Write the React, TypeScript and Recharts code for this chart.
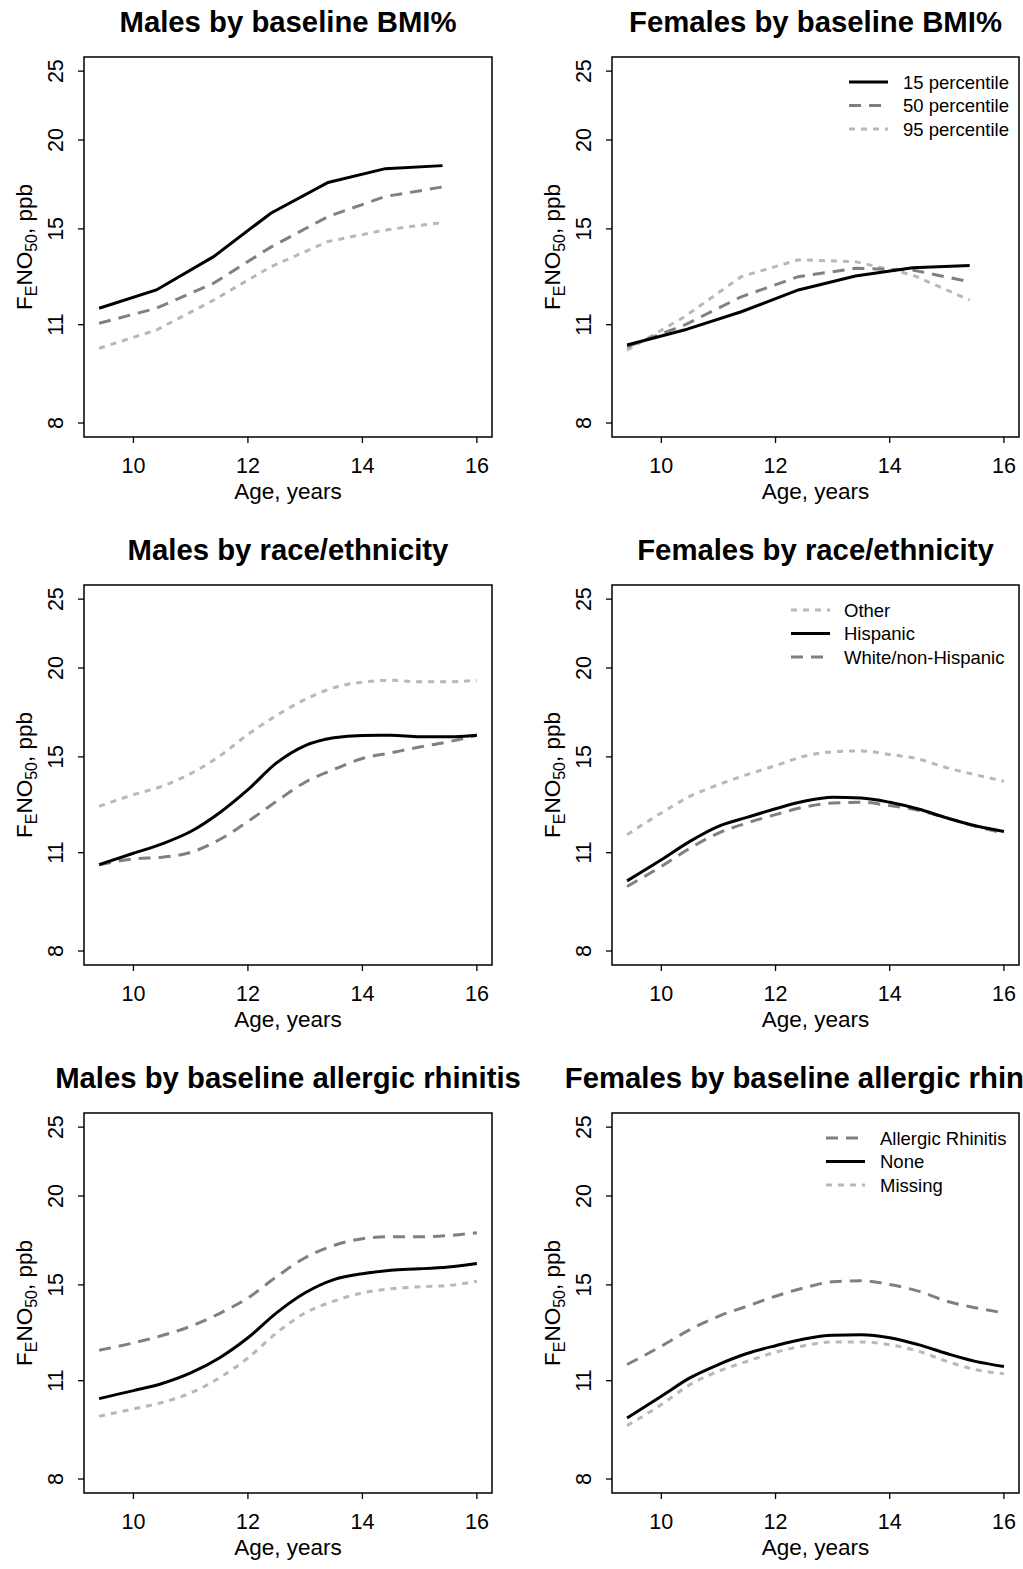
import React from "react";
import { LineChart, Line, XAxis, YAxis, ReferenceArea } from "recharts";

// ages at which each panel's curves were read
const bmiAges = [9.4, 10.4, 11.4, 12.4, 13.4, 14.4, 15.4];
const smoothAges = [9.4, 10, 10.5, 11, 11.5, 12, 12.5, 13, 13.5, 14, 14.5, 15, 15.5, 16];

// Males by baseline BMI%
const maleBmi15 = [11.6, 12.31, 13.71, 15.78, 17.43, 18.23, 18.41];
const maleBmi50 = [11.05, 11.6, 12.58, 14.14, 15.61, 16.66, 17.18];
const maleBmi95 = [10.19, 10.81, 11.91, 13.27, 14.4, 14.95, 15.31];

// Females by baseline BMI%
const femaleBmi15 = [10.3, 10.81, 11.47, 12.31, 12.88, 13.23, 13.32];
const femaleBmi50 = [10.24, 10.98, 12.04, 12.85, 13.2, 13.13, 12.64];
const femaleBmi95 = [10.13, 11.28, 12.85, 13.57, 13.49, 12.92, 11.91];

// Males by race/ethnicity
const maleOther = [12.78, 13.27, 13.64, 14.21, 15.03, 16.13, 17.15, 18.07, 18.77, 19.11, 19.22, 19.13, 19.13, 19.22];
const maleHispanic = [10.58, 10.98, 11.32, 11.78, 12.51, 13.49, 14.71, 15.56, 15.96, 16.08, 16.09, 16.01, 16.01, 16.09];
const maleWhite = [10.58, 10.78, 10.84, 11.01, 11.47, 12.17, 12.99, 13.82, 14.4, 14.92, 15.2, 15.49, 15.75, 16.09];

// Females by race/ethnicity
const femaleOther = [11.66, 12.51, 13.2, 13.71, 14.16, 14.58, 15.03, 15.25, 15.29, 15.12, 14.9, 14.48, 14.16, 13.86];
const femaleHispanic = [10.04, 10.75, 11.41, 11.98, 12.33, 12.68, 12.99, 13.16, 13.13, 12.95, 12.67, 12.31, 12.0, 11.78];
const femaleWhite = [9.86, 10.52, 11.16, 11.72, 12.11, 12.44, 12.75, 12.92, 12.95, 12.81, 12.62, 12.31, 11.98, 11.72];

// Males by baseline allergic rhinitis
const maleAllergic = [12.14, 12.43, 12.73, 13.12, 13.67, 14.38, 15.4, 16.38, 17.04, 17.42, 17.53, 17.53, 17.6, 17.76];
const maleNone = [10.38, 10.65, 10.9, 11.28, 11.84, 12.64, 13.7, 14.62, 15.26, 15.55, 15.73, 15.8, 15.9, 16.08];
const maleMissing = [9.8, 10.04, 10.25, 10.57, 11.1, 11.84, 12.84, 13.7, 14.23, 14.62, 14.81, 14.91, 14.97, 15.18];

// Females by baseline allergic rhinitis
const femaleAllergic = [11.59, 12.3, 12.98, 13.55, 14.0, 14.46, 14.86, 15.15, 15.2, 15.02, 14.7, 14.23, 13.93, 13.7];
const femaleNone = [9.75, 10.46, 11.1, 11.59, 12.01, 12.32, 12.59, 12.74, 12.76, 12.64, 12.36, 12.01, 11.71, 11.52];
const femaleMissing = [9.51, 10.18, 10.86, 11.34, 11.71, 12.06, 12.32, 12.47, 12.47, 12.36, 12.1, 11.71, 11.4, 11.25];

const xTicks = [10, 12, 14, 16];
const yTicks = [8, 11, 15, 20, 25];

const FONT = '"Liberation Sans", Arial, Helvetica, sans-serif';
const X_DOMAIN: [number, number] = [9.136, 16.264];
const Y_DOMAIN: [number, number] = [7.646, 26.17];

const lineStyles: Record<string, { stroke: string; dash?: string }> = {
  solid: { stroke: "#000000" },
  dashed: { stroke: "#808080", dash: "12 8" },
  dotted: { stroke: "#b8b8b8", dash: "6 6" },
};

type Series = { name: string; values: number[]; style: string };
type PanelDef = {
  title: string;
  ages: number[];
  curve: "linear" | "monotone";
  series: Series[]; // drawing order
  legend?: { order: number[]; lineX: number; textX: number };
};

const panels: PanelDef[] = [
  {
    title: "Males by baseline BMI%",
    ages: bmiAges,
    curve: "linear",
    series: [
      { name: "95 percentile", values: maleBmi95, style: "dotted" },
      { name: "50 percentile", values: maleBmi50, style: "dashed" },
      { name: "15 percentile", values: maleBmi15, style: "solid" },
    ],
  },
  {
    title: "Females by baseline BMI%",
    ages: bmiAges,
    curve: "linear",
    series: [
      { name: "95 percentile", values: femaleBmi95, style: "dotted" },
      { name: "50 percentile", values: femaleBmi50, style: "dashed" },
      { name: "15 percentile", values: femaleBmi15, style: "solid" },
    ],
    legend: { order: [2, 1, 0], lineX: 338, textX: 392 },
  },
  {
    title: "Males by race/ethnicity",
    ages: smoothAges,
    curve: "monotone",
    series: [
      { name: "Other", values: maleOther, style: "dotted" },
      { name: "White/non-Hispanic", values: maleWhite, style: "dashed" },
      { name: "Hispanic", values: maleHispanic, style: "solid" },
    ],
  },
  {
    title: "Females by race/ethnicity",
    ages: smoothAges,
    curve: "monotone",
    series: [
      { name: "Other", values: femaleOther, style: "dotted" },
      { name: "White/non-Hispanic", values: femaleWhite, style: "dashed" },
      { name: "Hispanic", values: femaleHispanic, style: "solid" },
    ],
    legend: { order: [0, 2, 1], lineX: 280, textX: 333 },
  },
  {
    title: "Males by baseline allergic rhinitis",
    ages: smoothAges,
    curve: "monotone",
    series: [
      { name: "Missing", values: maleMissing, style: "dotted" },
      { name: "Allergic Rhinitis", values: maleAllergic, style: "dashed" },
      { name: "None", values: maleNone, style: "solid" },
    ],
  },
  {
    title: "Females by baseline allergic rhinitis",
    ages: smoothAges,
    curve: "monotone",
    series: [
      { name: "Missing", values: femaleMissing, style: "dotted" },
      { name: "Allergic Rhinitis", values: femaleAllergic, style: "dashed" },
      { name: "None", values: femaleNone, style: "solid" },
    ],
    legend: { order: [1, 2, 0], lineX: 315, textX: 369 },
  },
];

// panel geometry (px)
const cols = [
  { x0: 0, w: 511, boxL: 84, boxR: 492 },
  { x0: 511, w: 512, boxL: 101, boxR: 508 },
];
const rowTops = [0, 528, 1056];
const PANEL_H = 513;
const BOX_TOP = 57;
const BOX_BOTTOM = 437;
const Y_AXIS_W = 60;
const X_AXIS_H = 60;
const TICK_FONT = 21.5;

const XTick = (props: any) => {
  const { x, y, payload } = props;
  return (
    <text x={x} y={y + 27.5} textAnchor="middle" fontSize={TICK_FONT} fontFamily={FONT} fill="#000">
      {payload.value}
    </text>
  );
};

const YTick = (props: any) => {
  const { x, y, payload } = props;
  const bx = x - 12.5;
  return (
    <text
      x={bx}
      y={y}
      transform={`rotate(-90 ${bx} ${y})`}
      textAnchor="middle"
      fontSize={TICK_FONT}
      fontFamily={FONT}
      fill="#000"
    >
      {payload.value}
    </text>
  );
};

function Panel({ def, col, rowTop }: { def: PanelDef; col: (typeof cols)[number]; rowTop: number }) {
  const rows = def.ages.map((age, i) => {
    const r: Record<string, number> = { age };
    def.series.forEach((s, k) => (r["s" + k] = s.values[i]));
    return r;
  });
  const cx = (col.boxL + col.boxR) / 2;
  const cy = (BOX_TOP + BOX_BOTTOM) / 2;
  const yl = col.boxL - 52;

  return (
    <div style={{ position: "absolute", left: col.x0, top: rowTop, width: col.w, height: PANEL_H }}>
      <LineChart
        width={col.w}
        height={PANEL_H}
        data={rows}
        margin={{
          top: BOX_TOP,
          right: col.w - col.boxR,
          left: col.boxL - Y_AXIS_W,
          bottom: PANEL_H - BOX_BOTTOM - X_AXIS_H,
        }}
      >
        <XAxis
          dataKey="age"
          type="number"
          domain={X_DOMAIN}
          allowDataOverflow
          ticks={xTicks}
          height={X_AXIS_H}
          axisLine={false}
          tickSize={6}
          tickMargin={2}
          tickLine={{ stroke: "#000", strokeWidth: 1.3 }}
          tick={<XTick />}
        />
        <YAxis
          type="number"
          scale="log"
          domain={Y_DOMAIN}
          allowDataOverflow
          ticks={yTicks}
          width={Y_AXIS_W}
          axisLine={false}
          tickSize={6}
          tickMargin={2}
          tickLine={{ stroke: "#000", strokeWidth: 1.3 }}
          tick={<YTick />}
        />
        <ReferenceArea
          x1={X_DOMAIN[0]}
          x2={X_DOMAIN[1]}
          y1={Y_DOMAIN[0]}
          y2={Y_DOMAIN[1]}
          fill="none"
          stroke="#000"
          strokeWidth={1.5}
          ifOverflow="visible"
        />
        {def.series.map((s, k) => (
          <Line
            key={s.name}
            dataKey={"s" + k}
            type={def.curve}
            stroke={lineStyles[s.style].stroke}
            strokeDasharray={lineStyles[s.style].dash}
            strokeWidth={3}
            dot={false}
            activeDot={false}
            isAnimationActive={false}
          />
        ))}
      </LineChart>

      <svg
        width={col.w}
        height={PANEL_H}
        style={{ position: "absolute", left: 0, top: 0, pointerEvents: "none" }}
        fontFamily={FONT}
      >
        <text x={cx} y={BOX_BOTTOM + 62} textAnchor="middle" fontSize={22.5} fill="#000">
          Age, years
        </text>
        <text x={yl} y={cy} transform={`rotate(-90 ${yl} ${cy})`} textAnchor="middle" fontSize={22.5} fill="#000">
          F
          <tspan fontSize={16} dy={4.5}>E</tspan>
          <tspan dy={-4.5}>NO</tspan>
          <tspan fontSize={16} dy={4.5}>50</tspan>
          <tspan dy={-4.5}>, ppb</tspan>
        </text>
        {def.legend &&
          def.legend.order.map((k, i) => {
            const s = def.series[k];
            const st = lineStyles[s.style];
            const y = BOX_TOP + 25 + 23.5 * i;
            return (
              <g key={s.name}>
                <line
                  x1={def.legend!.lineX}
                  x2={def.legend!.lineX + 39}
                  y1={y}
                  y2={y}
                  stroke={st.stroke}
                  strokeWidth={3}
                  strokeDasharray={st.dash}
                />
                <text x={def.legend!.textX} y={y + 6.5} fontSize={18.5} fill="#000">
                  {s.name}
                </text>
              </g>
            );
          })}
      </svg>
    </div>
  );
}

export default function App() {
  return (
    <div
      style={{
        position: "absolute",
        left: 0,
        top: 0,
        width: 1023,
        height: 1569,
        overflow: "hidden",
        background: "#fff",
        fontFamily: FONT,
      }}
    >
      {panels.map((def, i) => (
        <Panel key={def.title} def={def} col={cols[i % 2]} rowTop={rowTops[Math.floor(i / 2)]} />
      ))}
      {/* panel titles: the last one runs past the right edge, as in the source figure */}
      <svg
        width={1023}
        height={1569}
        style={{ position: "absolute", left: 0, top: 0, pointerEvents: "none" }}
        fontFamily={FONT}
      >
        {panels.map((def, i) => {
          const col = cols[i % 2];
          const x = col.x0 + (col.boxL + col.boxR) / 2;
          const y = rowTops[Math.floor(i / 2)] + 31.5;
          return (
            <text key={def.title} x={x} y={y} textAnchor="middle" fontSize={29.3} fontWeight="bold" fill="#000">
              {def.title}
            </text>
          );
        })}
      </svg>
    </div>
  );
}
